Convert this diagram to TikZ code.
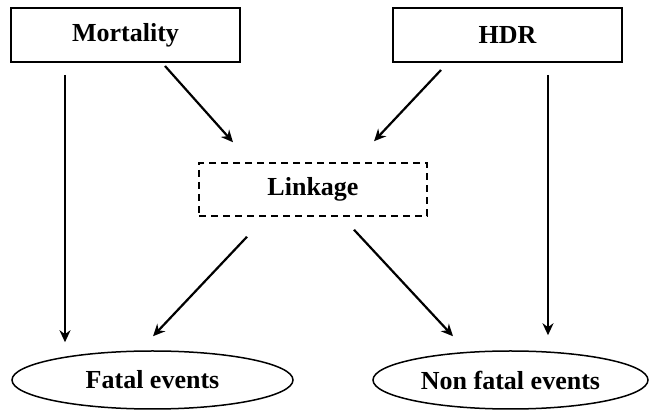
\documentclass[tikz,border=0pt]{standalone}
\usepackage{fontspec}
\setmainfont{Liberation Serif}
\usetikzlibrary{shapes.geometric,arrows.meta}
\begin{document}
\begin{tikzpicture}[x=1pt,y=-1pt,
  box/.style={draw, line width=2pt, minimum width=229pt, minimum height=54pt, inner sep=0pt, font=\fontsize{26}{31}\selectfont\bfseries},
  linkbox/.style={draw, line width=1.5pt, dash pattern=on 7pt off 5pt, minimum width=228pt, minimum height=53pt, inner sep=0pt, font=\fontsize{26}{31}\selectfont\bfseries},
  outcome/.style={ellipse, draw, line width=1.5pt, minimum height=58pt, inner sep=0pt, font=\fontsize{26}{31}\selectfont\bfseries},
  arr/.style={line width=2.2pt, -{Stealth[length=12pt,width=11pt]}}]
\useasboundingbox (0,0) rectangle (649,411);
\node[box] (mort) at (125.5,35){Mortality};
\node[box] (hdr) at (507.5,35){HDR};
\node[linkbox] (link) at (313,189.5){Linkage};
\node[outcome, minimum width=281pt] (fatal) at (152.5,380){Fatal events};
\node[outcome, minimum width=275pt] (nonfatal) at (510.5,380){Non fatal events};
\draw[arr]([shift={(-60.5,12)}]mort.south) -- ([shift={(-87.5,-8)}]fatal.north);
\draw[arr]([shift={(39.5,3)}]mort.south) -- ([shift={(-80,-20)}]link.north);
\draw[arr]([shift={(-66.5,7)}]hdr.south) -- ([shift={(61,-21)}]link.north);
\draw[arr]([shift={(40.5,12)}]hdr.south) -- ([shift={(37.5,-15)}]nonfatal.north);
\draw[arr]([shift={(-66,20)}]link.south) -- ([shift={(0.5,-14)}]fatal.north);
\draw[arr]([shift={(41,13)}]link.south) -- ([shift={(-57.5,-14)}]nonfatal.north);
\end{tikzpicture}
\end{document}
